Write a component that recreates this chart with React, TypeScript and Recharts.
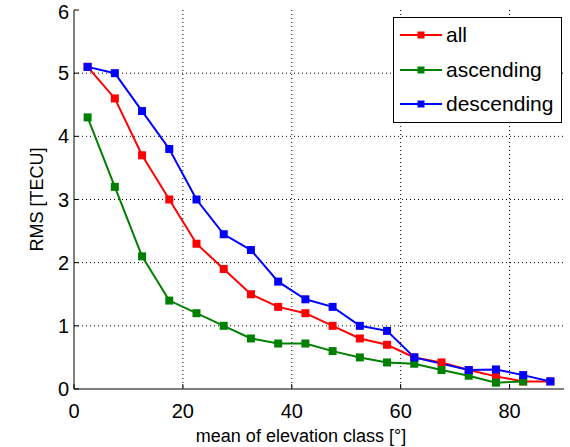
import {
	CartesianGrid,
	Legend,
	Line,
	LineChart,
	XAxis,
	YAxis,
} from "recharts";

const elevation = [
	2.5, 7.5, 12.5, 17.5, 22.5, 27.5, 32.5, 37.5, 42.5, 47.5, 52.5, 57.5, 62.5,
	67.5, 72.5, 77.5, 82.5, 87.5,
];
const rmsAll = [
	5.1, 4.6, 3.7, 3.0, 2.3, 1.9, 1.5, 1.3, 1.2, 1.0, 0.8, 0.7, 0.5, 0.42, 0.3,
	0.2, 0.12, 0.12,
];
const rmsAscending = [
	4.3, 3.2, 2.1, 1.4, 1.2, 1.0, 0.8, 0.72, 0.72, 0.6, 0.5, 0.42, 0.4, 0.3, 0.21,
	0.1, 0.12, null,
];
const rmsDescending = [
	5.1, 5.0, 4.4, 3.8, 3.0, 2.45, 2.2, 1.7, 1.42, 1.3, 1.0, 0.92, 0.5, null, 0.3,
	0.31, 0.22, 0.12,
];
const xTicks = [0, 20, 40, 60, 80];
const yTicks = [0, 1, 2, 3, 4, 5, 6];

const series = [
	{ key: "all", name: "all", color: "#ff0000" },
	{ key: "ascending", name: "ascending", color: "#008000" },
	{ key: "descending", name: "descending", color: "#0000ff" },
];

const data = elevation.map((x, i) => ({
	x,
	all: rmsAll[i],
	ascending: rmsAscending[i],
	descending: rmsDescending[i],
}));

const FONT = "'Liberation Sans', Arial, Helvetica, sans-serif";

const squareDot = (color: string) => (props: any) => {
	const { cx, cy, index } = props;
	if (cx == null || cy == null || Number.isNaN(cy)) return <g key={index} />;
	return (
		<rect
			key={index}
			x={cx - 4}
			y={cy - 4}
			width={8}
			height={8}
			fill={color}
		/>
	);
};

const LegendBox = () => (
	<div
		style={{
			border: "1px solid #000",
			background: "#fff",
			boxSizing: "border-box",
			width: 169,
			height: 106,
			fontFamily: FONT,
			fontSize: 21,
			color: "#000",
		}}
	>
		{series.map((s) => (
			<div
				key={s.key}
				style={{ display: "flex", alignItems: "center", height: 34.5 }}
			>
				<svg width={52} height={10} style={{ flex: "none" }}>
					<line x1={6} y1={5} x2={48} y2={5} stroke={s.color} strokeWidth={2} />
					<rect x={23.5} y={1.5} width={7} height={7} fill={s.color} />
				</svg>
				<span>{s.name}</span>
			</div>
		))}
	</div>
);

export default function App() {
	return (
		<div style={{ position: "absolute", left: 0, top: 0, background: "#fff" }}>
			<LineChart
				width={570}
				height={447}
				data={data}
				margin={{ top: 10, right: 6, bottom: 0, left: 0 }}
				style={{ fontFamily: FONT }}
			>
				<CartesianGrid
					stroke="#000"
					strokeDasharray="1 3"
					horizontalValues={[1, 2, 3, 4, 5]}
					verticalValues={[20, 40, 60, 80]}
				/>
				<XAxis
					dataKey="x"
					type="number"
					domain={[0, 90]}
					ticks={xTicks}
					allowDataOverflow
					height={58}
					tickSize={-5}
					tickMargin={20}
					stroke="#000"
					tick={{ fill: "#000", fontSize: 20 }}
					label={{
						value: "mean of elevation class [°]",
						position: "insideBottom",
						offset: 5,
						dx: -18,
						fill: "#000",
						fontSize: 18,
					}}
				/>
				<XAxis
					xAxisId="top"
					orientation="top"
					type="number"
					domain={[0, 90]}
					ticks={xTicks}
					allowDataOverflow
					height={0}
					tickSize={-5}
					tick={false}
					stroke="#000"
				/>
				<YAxis
					type="number"
					domain={[0, 6]}
					ticks={yTicks}
					allowDataOverflow
					width={74}
					tickSize={-5}
					tickMargin={10}
					stroke="#000"
					tick={{ fill: "#000", fontSize: 20 }}
					label={{
						value: "RMS [TECU]",
						angle: -90,
						position: "insideLeft",
						offset: 37,
						style: { textAnchor: "middle" },
						fill: "#000",
						fontSize: 18,
					}}
				/>
				<YAxis
					yAxisId="right"
					orientation="right"
					type="number"
					domain={[0, 6]}
					ticks={yTicks}
					allowDataOverflow
					width={0}
					tickSize={-5}
					tick={false}
					stroke="#000"
				/>
				{series.map((s) => (
					<Line
						key={s.key}
						dataKey={s.key}
						name={s.name}
						stroke={s.color}
						strokeWidth={2}
						connectNulls
						dot={squareDot(s.color)}
						activeDot={false}
						isAnimationActive={false}
					/>
				))}
				<Legend
					layout="vertical"
					align="center"
					verticalAlign="middle"
					content={<LegendBox />}
					wrapperStyle={{ top: 17, left: 393, width: 169, height: 106 }}
				/>
			</LineChart>
		</div>
	);
}
